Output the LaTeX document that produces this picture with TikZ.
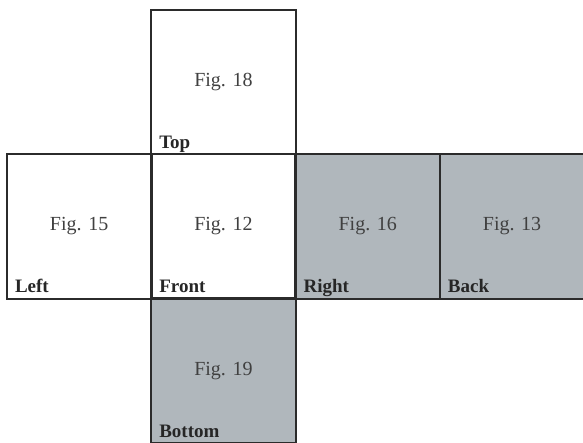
\documentclass[tikz,border=0pt]{standalone}
\usepackage{fontspec}
\setmainfont{Liberation Serif}
\usepackage{xcolor}
\definecolor{netgray}{HTML}{B0B7BC}
\definecolor{netline}{HTML}{2B2B2B}

\begin{document}
\begin{tikzpicture}[x=1pt,y=1pt,
    face/.style={minimum size=144.3pt,inner sep=0pt,font=\fontsize{20}{22}\selectfont,text=black!75},
    shaded/.style={face,fill=netgray},
    edge/.style={draw=netline,line width=2pt},
    facename/.style={anchor=base west,inner sep=0pt,xshift=8pt,yshift=6pt,font=\fontsize{19}{21}\selectfont\bfseries,text=black!85}]
    \useasboundingbox (0,0) rectangle (583,442);
    % faces of the net
    \node[face] (top) at (223.45,359.85) {Fig. 18};
    \node[face] (left) at (79.15,215.55) {Fig. 15};
    \node[face] (front) at (223.45,215.55) {Fig. 12};
    \node[shaded] (right) at (367.75,215.55) {Fig. 16};
    \node[shaded] (back) at (512.05,215.55) {Fig. 13};
    \node[shaded] (bottom) at (223.45,71.25) {Fig. 19};
    % outlines
    \foreach \f in {top,left,front,right,back,bottom}
        \draw[edge] (\f.south west) rectangle (\f.north east);
    % names
    \node[facename] (toplbl) at (top.south west) {Top};
    \node[facename] (leftlbl) at (left.south west) {Left};
    \node[facename] (frontlbl) at (front.south west) {Front};
    \node[facename] (rightlbl) at (right.south west) {Right};
    \node[facename] (backlbl) at (back.south west) {Back};
    \node[facename] (bottomlbl) at (bottom.south west) {Bottom};
\end{tikzpicture}
\end{document}
